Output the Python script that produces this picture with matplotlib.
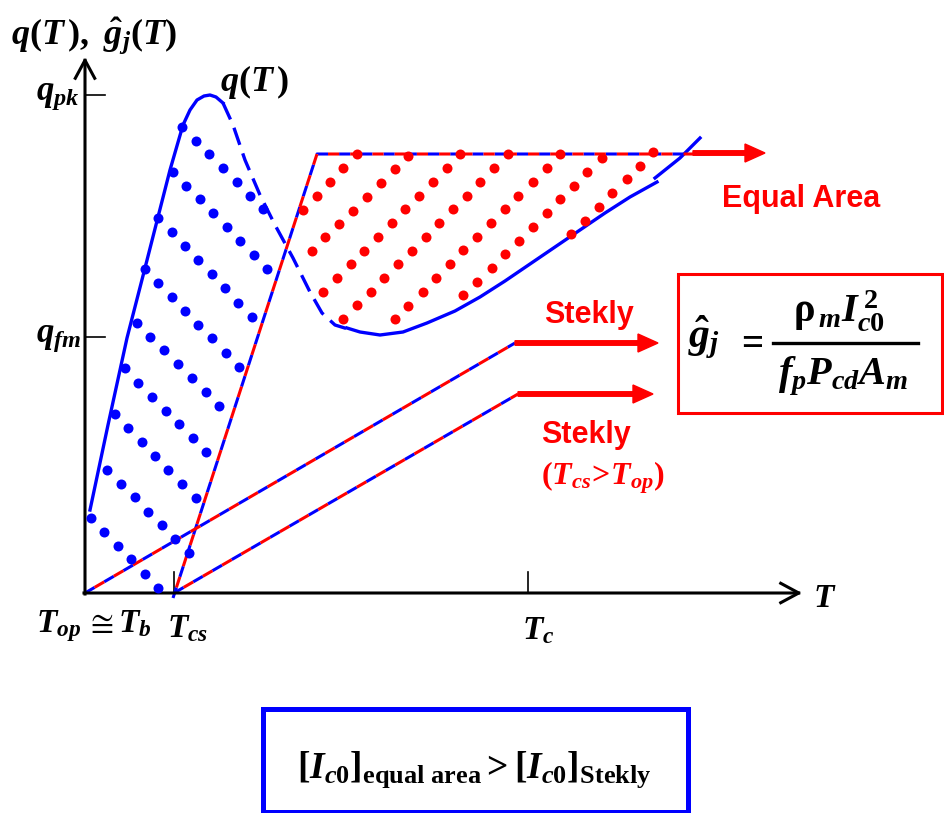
import matplotlib.pyplot as plt
from matplotlib.patches import Rectangle

plt.rcParams['mathtext.fontset'] = 'custom'
plt.rcParams['mathtext.rm'] = 'Liberation Serif:bold'
plt.rcParams['mathtext.it'] = 'Liberation Serif:italic:bold'
plt.rcParams['mathtext.bf'] = 'Liberation Serif:bold'
plt.rcParams['lines.scale_dashes'] = False

# diagram units: T to the right, q up, origin at T_op
q_pk = 498
q_fm = 256
T_cs = 89
T_c = 443

# q(T): rising branch, recovery (unstable) branch, falling-back branch
rise_T = [5, 23, 42, 60, 73, 85, 98, 105, 112, 119, 125, 131, 138]
rise_q = [83, 168, 255, 325, 376, 423, 468, 483, 493, 497, 498, 496, 490]
drop_T = [138, 148, 160, 175, 190, 208, 225, 237, 250, 263]
drop_q = [490, 468, 433, 398, 368, 335, 301, 280, 268, 264]
back_T = [262, 275, 295, 318, 342, 370, 395, 420, 445, 470, 495, 520, 545, 572]
back_q = [265, 261, 258, 261, 270, 282, 296, 312, 329, 346, 363, 380, 396, 411]
tail_T = [570, 595, 615]
tail_q = [415, 435, 455]

# g_j(T) lines: equal-area and the two Stekly cases
ea_T = [88, 232, 625]
ea_q = [-5, 439, 439]
st1_T = [0, 430]
st1_q = [0, 250]
st2_T = [T_cs, 433]
st2_q = [0, 199]

# dot shading of the two areas, one list per diagonal row
blue_rows = [
    [(97, 466), (111, 452), (124, 439), (138, 425), (152, 411), (165, 397), (178, 384)],
    [(88, 421), (101, 407), (115, 394), (128, 380), (142, 366), (155, 352), (169, 338), (182, 324)],
    [(73, 375), (87, 361), (100, 347), (113, 333), (127, 319), (140, 305), (153, 290), (167, 276)],
    [(60, 324), (73, 310), (87, 296), (100, 282), (113, 268), (127, 255), (141, 240), (154, 226)],
    [(52, 270), (65, 256), (79, 243), (93, 229), (107, 215), (121, 201), (134, 187)],
    [(40, 225), (53, 210), (67, 196), (81, 182), (94, 169), (108, 155), (121, 141)],
    [(30, 179), (43, 165), (57, 151), (70, 137), (83, 123), (97, 109), (111, 95)],
    [(22, 123), (36, 109), (50, 96), (63, 81), (77, 68), (90, 54), (104, 40)],
    [(6, 75), (19, 61), (33, 47), (46, 34), (60, 19), (73, 5)],
]
red_rows = [
    [(218, 383), (232, 397), (245, 411), (258, 425), (272, 439)],
    [(227, 342), (240, 356), (254, 369), (268, 382), (282, 396), (296, 410), (310, 424), (323, 437)],
    [(238, 301), (252, 315), (266, 329), (279, 342), (293, 356), (307, 370), (320, 384),
     (334, 397), (348, 411), (362, 425), (375, 439)],
    [(258, 274), (272, 288), (286, 301), (299, 315), (313, 329), (327, 342), (341, 356),
     (354, 370), (368, 384), (382, 397), (395, 411), (409, 425), (423, 439)],
    [(310, 274), (323, 287), (338, 301), (351, 315), (365, 329), (378, 343), (392, 356),
     (406, 370), (420, 384), (433, 397), (448, 411), (462, 425), (475, 439)],
    [(378, 298), (392, 311), (407, 325), (420, 339), (434, 352), (448, 366), (462, 380),
     (475, 394), (489, 407), (502, 421), (517, 435)],
    [(486, 359), (500, 372), (514, 386), (527, 400), (542, 414), (555, 427), (568, 441)],
]

fig = plt.figure(figsize=(9.44, 8.13), dpi=100)
ax = fig.add_axes([0, 0, 1, 1])
ax.set_xlim(-85, 859)
ax.set_ylim(-220, 593)
ax.axis('off')

BLUE = '#0000ff'
RED = '#ff0000'


def two_tone(T, q):
    # alternating red / blue dashes
    ax.plot(T, q, color=BLUE, lw=2.2, linestyle=(0, (8, 8)))
    ax.plot(T, q, color=RED, lw=2.2, linestyle=(8, (8, 8)))


# axes with open arrow heads
arrow = dict(arrowstyle='->,head_length=0.65,head_width=0.35', lw=2.2, color='black',
             shrinkA=0, shrinkB=0, mutation_scale=20, capstyle='projecting')
ax.annotate('', xy=(0, 536), xytext=(0, -1), arrowprops=arrow)
ax.annotate('', xy=(717, 0), xytext=(-1, 0), arrowprops=arrow)

# ticks
ax.plot([0, 20], [q_pk, q_pk], color='black', lw=1.2)
ax.plot([0, 20], [q_fm, q_fm], color='black', lw=1.2)
ax.plot([T_cs, T_cs], [0, 21], color='black', lw=1.2)
ax.plot([T_c, T_c], [0, 21], color='black', lw=1.2)

# q(T)
ax.plot(rise_T, rise_q, color=BLUE, lw=2.4)
ax.plot(drop_T, drop_q, color=BLUE, lw=2.4, linestyle=(0, (13, 6.5)))
ax.plot(back_T, back_q, color=BLUE, lw=2.4)
ax.plot(tail_T, tail_q, color=BLUE, lw=2.4)

two_tone(ea_T, ea_q)
two_tone(st1_T, st1_q)
two_tone(st2_T, st2_q)

for row in blue_rows:
    ax.plot([p[0] for p in row], [p[1] for p in row], 'o', color=BLUE, ms=7.2, mew=0, zorder=5)
for row in red_rows:
    ax.plot([p[0] for p in row], [p[1] for p in row], 'o', color=RED, ms=7.2, mew=0, zorder=5)

# red arrows
head = dict(width=4.5, head_width=18, head_length=20, length_includes_head=True,
            color=RED, zorder=6)
ax.arrow(608, 440, 72, 0, **head)
ax.arrow(430, 250, 143, 0, **head)
ax.arrow(433, 199, 135, 0, **head)

# labels
ax.text(-74, 557, r'$q(T\,),\ \hat{g}_j(T)$', fontsize=26, ha='left', va='center')
ax.text(170, 511, r'$q(T\,)$', fontsize=26, ha='center', va='center')
ax.text(-6, q_pk, r'$q_{pk}$', fontsize=25, ha='right', va='center')
ax.text(-4, q_fm, r'$q_{fm}$', fontsize=25, ha='right', va='center')
ax.text(-49, -33, r'$T_{op}\,\cong T_b$', fontsize=24, ha='left', va='center')
ax.text(82, -35, r'$T_{cs}$', fontsize=24, ha='left', va='center')
ax.text(437, -37, r'$T_c$', fontsize=24, ha='left', va='center')
ax.text(728, -4, r'$T$', fontsize=24, ha='left', va='center')

sans = dict(family='Liberation Sans', weight='bold', color=RED, fontsize=22,
            ha='center', va='center')
ax.text(716, 394, 'Equal Area', **sans)
ax.text(504, 278, 'Stekly', **sans)
ax.text(501, 158, 'Stekly', **sans)
ax.text(518, 115, r'$(T_{cs}\!>\!T_{op})$', color=RED, fontsize=23, ha='center', va='center')

# g_j definition box
ax.add_patch(Rectangle((593, 180), 264, 139, fill=False, edgecolor=RED, lw=2.2))
ax.text(619, 256, r'$\hat{g}_j$', fontsize=30, ha='center', va='center')
ax.text(664, 251, r'$=$', fontsize=28, ha='center', va='center')
ax.text(754, 282, r'$\mathrm{\rho}_{\,m} I_{c0}^{\,2}$', fontsize=29, ha='center', va='center')
ax.plot([688, 833], [250, 250], color='black', lw=2.4)
ax.text(758, 217, r'$f_{p}P_{cd}A_{m}$', fontsize=29, ha='center', va='center')

# comparison box
ax.add_patch(Rectangle((178, -219), 425, 103, fill=False, edgecolor=BLUE, lw=3.6))
ax.text(389, -177, r'$[I_{c0}]_{\mathrm{equal\ area}} > [I_{c0}]_{\mathrm{Stekly}}$',
        fontsize=27, ha='center', va='center')

fig.savefig('out.png', dpi=100)
